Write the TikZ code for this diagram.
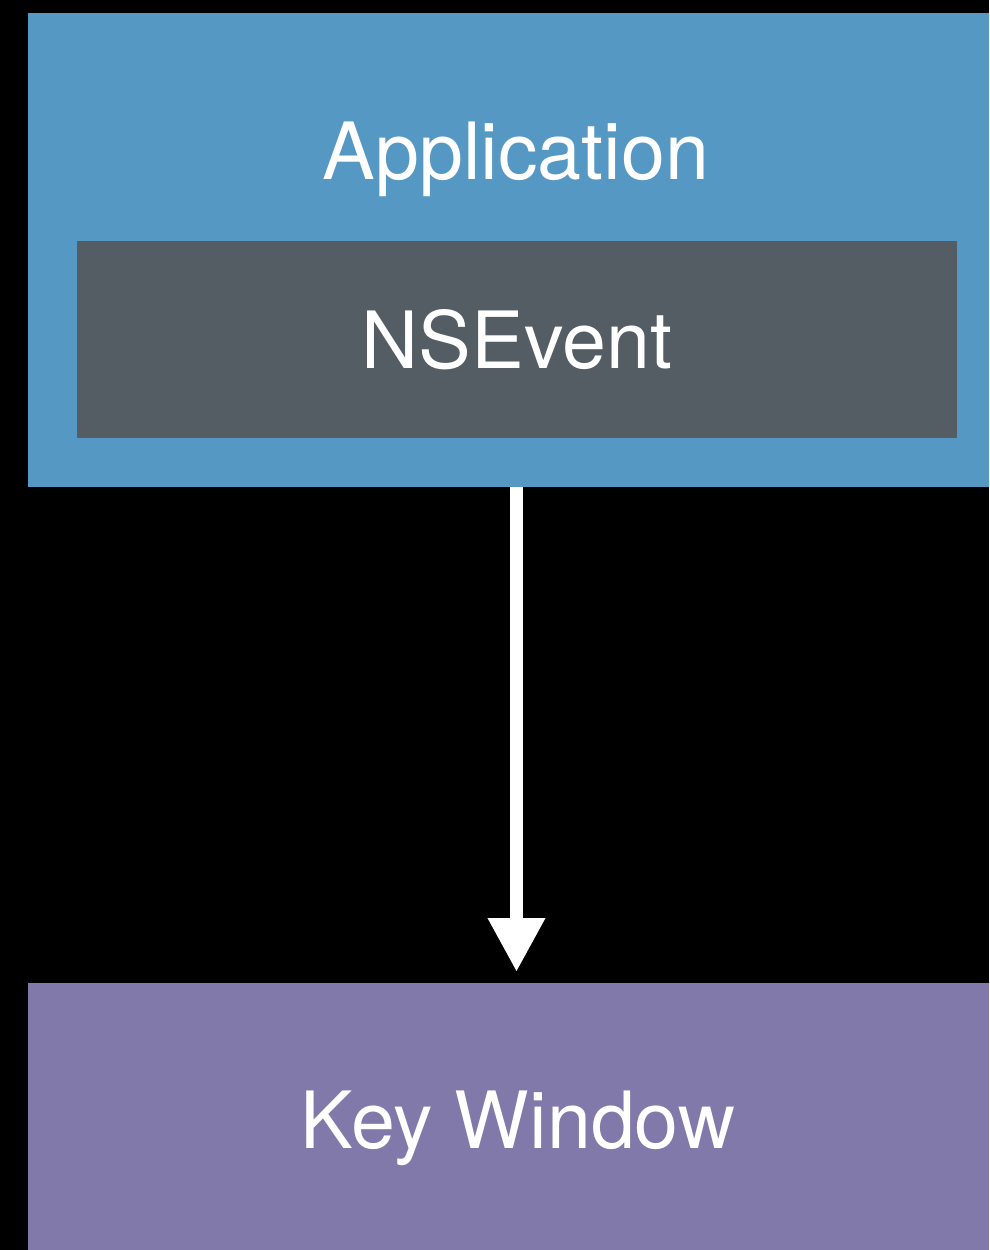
\documentclass[tikz,border=0pt]{standalone}
\usepackage{fontspec}
\setmainfont{TeX Gyre Heros}
\usetikzlibrary{arrows.meta}
\definecolor{appblue}{HTML}{5598C3}
\definecolor{evgray}{HTML}{545C64}
\definecolor{winpurple}{HTML}{8079AA}
\tikzset{
  panel/.style={anchor=north west, inner sep=0pt, outer sep=0pt, draw=none},
  caption/.style={anchor=base, text=white, inner sep=0pt, font=\fontsize{79}{90}\selectfont},
  flow/.style={draw=white, line width=13pt, line cap=butt,
    -{Triangle[width=54pt,length=54pt]}, fill=white},
}
\begin{document}
\begin{tikzpicture}[x=1pt, y=-1pt]
  % page background
  \fill[black] (0,0) rectangle (989,1250);
  \useasboundingbox (0,0) rectangle (989,1250);

  % application layer with the event bar inside
  \node[panel, fill=appblue, minimum width=961pt, minimum height=474pt] (app) at (28,13) {};
  \node[panel, fill=evgray, minimum width=880pt, minimum height=197pt] (evbar) at (77,241) {};
  \node[caption] (applbl) at (516,179) {Application};
  \node[caption] (evlbl) at (517,368) {NSEvent};

  % key window
  \node[panel, fill=winpurple, minimum width=961pt, minimum height=267pt] (keywin) at (28,983) {};
  \node[caption] (keylbl) at (518,1148) {Key Window};

  % event dispatch arrow
  \coordinate (tip) at (516.5,972);
  \draw[flow] (app.south -| tip) -- (tip);
\end{tikzpicture}
\end{document}
